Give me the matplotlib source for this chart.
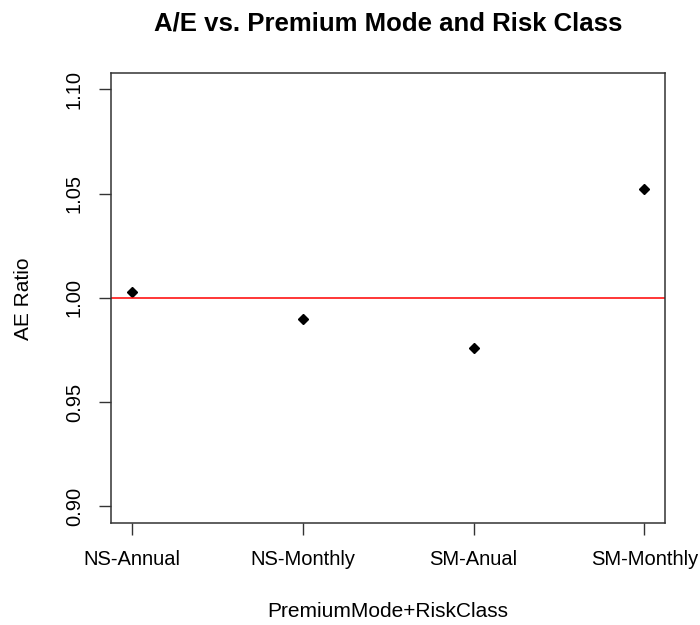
import matplotlib
matplotlib.use("Agg")
import matplotlib.pyplot as plt

plt.rcParams['font.family'] = ['Liberation Sans', 'DejaVu Sans']

# A/E ratio by premium mode and risk class
groups = ['NS-Annual', 'NS-Monthly', 'SM-Anual', 'SM-Monthly']
ae_ratio = [1.003, 0.990, 0.976, 1.052]
y_ticks = [0.90, 0.95, 1.00, 1.05, 1.10]

fig = plt.figure(figsize=(7, 6.25), dpi=100)
ax = fig.add_axes([0.1586, 0.1632, 0.7914, 0.7205])

x = list(range(1, len(groups) + 1))
ax.plot(x, ae_ratio, linestyle='none', marker='D', markersize=5.5, color='black')
ax.axhline(1.0, color='red', linewidth=1.1)

# base-R style axis ranges (4% padding)
ax.set_xlim(0.88, 4.12)
ax.set_ylim(0.892, 1.108)

ax.set_xticks(x)
ax.set_xticklabels(groups, fontsize=14.5)
ax.set_yticks(y_ticks)
ax.set_yticklabels([f'{v:.2f}' for v in y_ticks], fontsize=14.5,
                   rotation=90, va='center')
ax.tick_params(direction='out', length=8.6, width=1, color='#333333', pad=11)

for s in ax.spines.values():
    s.set_color('#333333')
    s.set_linewidth(1.1)

fig.text(0.554, 0.962, 'A/E vs. Premium Mode and Risk Class',
         ha='center', va='center', fontsize=18.5, fontweight='bold')
fig.text(0.554, 0.021, 'PremiumMode+RiskClass', ha='center', va='center',
         fontsize=15)
fig.text(0.034, 0.5216, 'AE Ratio', ha='center', va='center', rotation=90,
         fontsize=15)

fig.savefig('out.png', dpi=100)
